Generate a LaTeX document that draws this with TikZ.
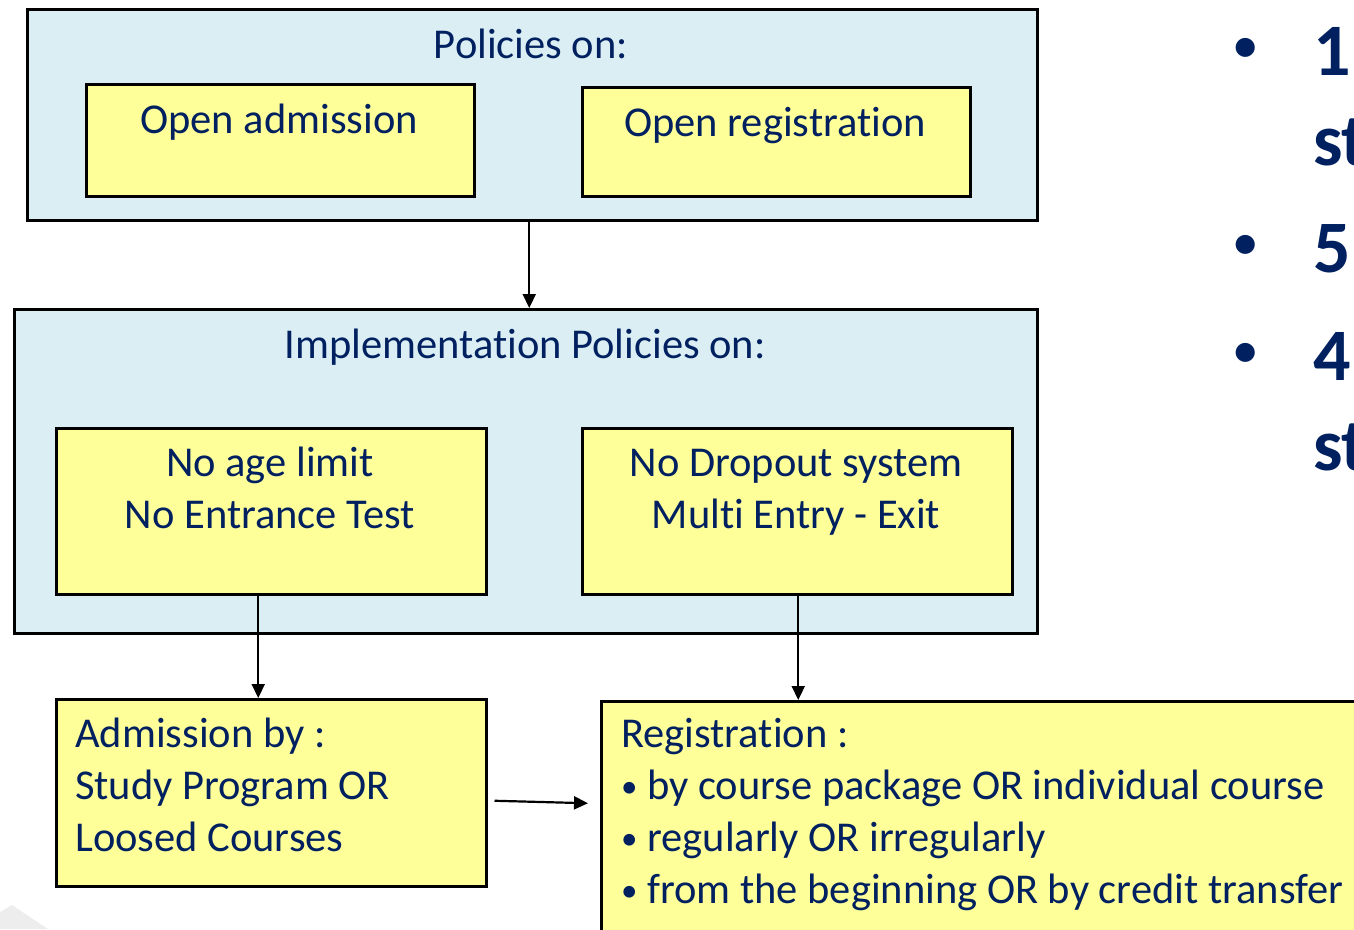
\documentclass[tikz,border=0pt]{standalone}
\usepackage{fontspec}
\setmainfont{Carlito}[Ligatures=NoCommon]
\usetikzlibrary{arrows.meta}
\definecolor{navy}{HTML}{002060}
\definecolor{panel}{HTML}{DBEEF4}
\definecolor{note}{HTML}{FFFF99}
\newcommand{\smallbul}{\raisebox{1.5pt}{\fontsize{33}{0}\selectfont •}}
\begin{document}
\begin{tikzpicture}[x=1pt,y=-1pt,
  panelbox/.style={draw=black,line width=2.5pt,fill=panel,rectangle,inner sep=0pt,anchor=north west},
  notebox/.style={draw=black,line width=2.5pt,fill=note,rectangle,inner sep=0pt,anchor=north west},
  txt/.style={text=navy,font=\fontsize{42.5}{52}\selectfont,inner sep=0pt,anchor=base,align=center},
  ltxt/.style={txt,anchor=base west,align=left},
  big/.style={text=navy,font=\bfseries\fontsize{74}{90}\selectfont,inner sep=0pt,anchor=base west},
  bul/.style={text=navy,font=\bfseries\fontsize{45}{50}\selectfont,inner sep=0pt,anchor=base},
  arr/.style={line width=2.2pt,-{Triangle[length=14pt,width=13pt]}}
]
\useasboundingbox (0,0) rectangle (1354,929);
\fill[black!7] (0,912) -- (12,905) -- (48,929) -- (0,929) -- cycle;

% top panel
\node[panelbox,minimum width=1010pt,minimum height=211pt] (top) at (26,8) {};
\node[notebox,minimum width=388pt,minimum height=112pt] (oa) at (85,83) {};
\node[notebox,minimum width=388pt,minimum height=109pt] (orb) at (581,86) {};
\node[txt] (ttop) at (531,58) {Policies on:};
\node[txt] (toa) at (279,133) {Open admission};
\node[txt] (tor) at (775,136) {Open registration};

% implementation panel
\node[panelbox,minimum width=1023pt,minimum height=324pt] (impl) at (13,308) {};
\node[notebox,minimum width=430pt,minimum height=166pt] (nal) at (55,427) {};
\node[notebox,minimum width=430pt,minimum height=166pt] (nds) at (581,427) {};
\node[txt] (timpl) at (525,358) {Implementation Policies on:};
\node[txt] (tnal) at (270,528) {No age limit\\No Entrance Test};
\node[txt] (tnds) at (796,528) {No Dropout system\\Multi Entry - Exit};

% bottom boxes
\node[notebox,minimum width=430pt,minimum height=187pt] (adm) at (55,698) {};
\node[notebox,minimum width=780pt,minimum height=270pt] (reg) at (600,700) {};
\node[ltxt] (tadm) at (75,851) {Admission by :\\Study Program OR\\Loosed Courses};
\node[ltxt] (treg) at (621,903) {Registration :\\\smallbul{} by course package OR individual course\\\smallbul{} regularly OR irregularly\\\smallbul{} from the beginning OR by credit transfer};

% connectors
\draw[arr] ([xshift=-3pt]top.south) -- ([xshift=3.5pt]impl.north);
\draw[arr] ([xshift=-13pt]nal.south) -- ([xshift=-13pt]adm.north);
\draw[arr] ([xshift=1pt]nds.south) -- ([xshift=1pt]nds.south |- reg.north);
\draw[arr] ([shift={(7pt,-8pt)}]adm.east) -- ([shift={(-12pt,33pt)}]reg.west);

% right bullets
\node[bul] (b1) at (1246,60) {•};
\node[big] (l1) at (1313,75) {1};
\node[big] (l1b) at (1313,165) {st};
\node[bul] (b2) at (1246,257) {•};
\node[big] (l2) at (1313,272) {5.};
\node[bul] (b3) at (1246,365) {•};
\node[big] (l3) at (1313,380) {4.};
\node[big] (l3b) at (1313,470) {st};
\end{tikzpicture}
\end{document}
